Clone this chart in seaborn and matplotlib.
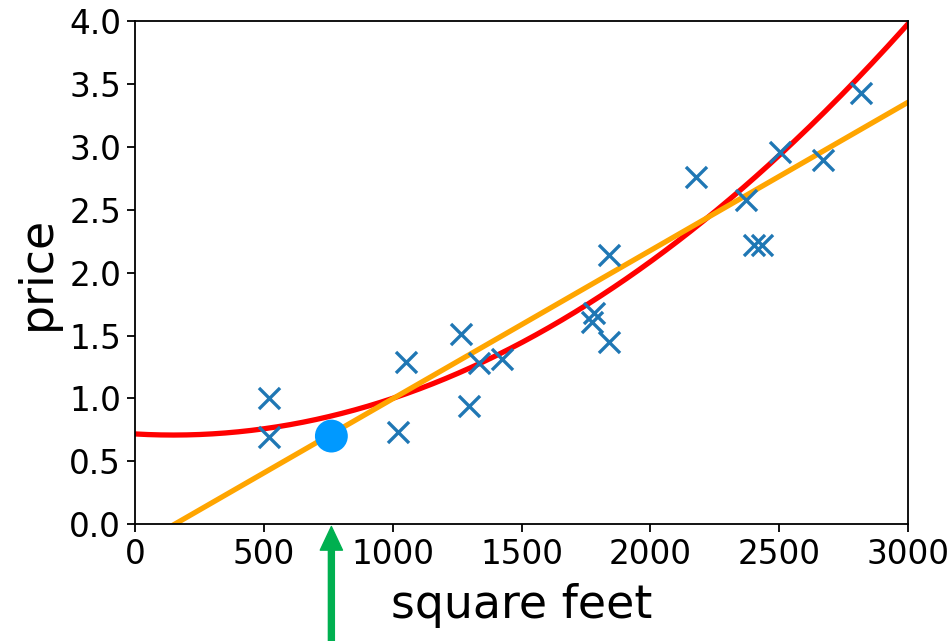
import numpy as np
import pandas as pd
import matplotlib
matplotlib.use('Agg')
import matplotlib.pyplot as plt
import seaborn as sns

# house data
sqft = [520, 520, 1020, 1053, 1266, 1297, 1335, 1424, 1783, 1775, 1841, 1841,
        2179, 2373, 2403, 2434, 2505, 2671, 2818]
price = [1.00, 0.69, 0.73, 1.29, 1.51, 0.94, 1.28, 1.31, 1.68, 1.61, 1.45, 2.14,
         2.76, 2.58, 2.22, 2.22, 2.96, 2.90, 3.43]

# fitted models (coefficients)
linear_coef = [-0.183, 0.00118]              # intercept, slope
quad_coef = [0.717, -0.000119, 4.023e-7]     # c0, c1, c2

# query point marked by the arrow
query_sqft = [762]
query_price = [0.70]

sns.set_style("ticks")
plt.rcParams['font.family'] = ['DejaVu Sans']
plt.rcParams['text.color'] = 'black'
plt.rcParams['axes.labelcolor'] = 'black'
plt.rcParams['xtick.color'] = 'black'
plt.rcParams['ytick.color'] = 'black'

fig = plt.figure(figsize=(9.49, 6.41), dpi=100)
ax = fig.add_axes([0.1423, 0.1825, 0.8145, 0.7840])

df = pd.DataFrame({'sqft': sqft, 'price': price})
sns.scatterplot(data=df, x='sqft', y='price', marker='x', s=230,
                linewidth=2.4, color='#1f77b4', ax=ax, zorder=3)

grid = np.linspace(0, 3000, 300)
lin = linear_coef[0] + linear_coef[1] * grid
quad = quad_coef[0] + quad_coef[1] * grid + quad_coef[2] * grid ** 2
sns.lineplot(x=grid, y=quad, color='red', linewidth=3.8, ax=ax, zorder=2)
sns.lineplot(x=grid, y=lin, color='orange', linewidth=3.8, ax=ax, zorder=2)

ax.scatter(query_sqft, query_price, s=560, color='#0099ff', zorder=4,
           edgecolors='none')

ax.annotate('', xy=(query_sqft[0], -0.02), xytext=(query_sqft[0], -0.95),
            xycoords='data', textcoords='data', annotation_clip=False,
            arrowprops=dict(width=4.3, headwidth=16, headlength=17,
                            color='#00b050', shrink=0))

ax.set_xlim(0, 3000)
ax.set_ylim(0, 4.0)
ax.set_xticks(np.arange(0, 3001, 500))
ax.set_yticks(np.arange(0, 4.01, 0.5))
ax.set_yticklabels([f'{v:.1f}' for v in np.arange(0, 4.01, 0.5)])
ax.tick_params(labelsize=23.5, length=6, width=1.3, pad=4, colors='black')
for sp in ax.spines.values():
    sp.set_visible(True)
    sp.set_linewidth(1.3)
    sp.set_color('black')
ax.set_xlabel('square feet', fontsize=33, labelpad=9)
ax.set_ylabel('price', fontsize=33, labelpad=7)

fig.savefig('out.png', dpi=100)
